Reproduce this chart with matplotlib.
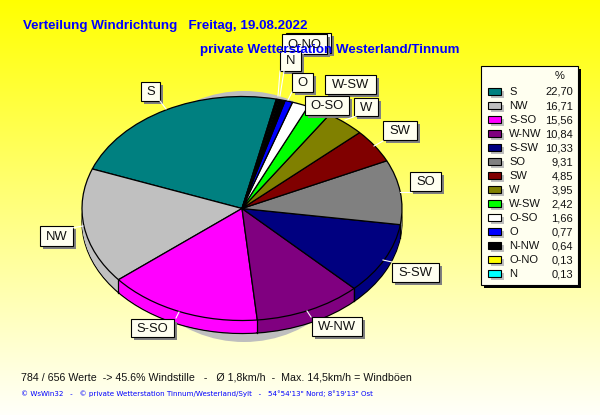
import numpy as np
import matplotlib
matplotlib.use("Agg")
import matplotlib.pyplot as plt
from matplotlib.patches import Rectangle, Ellipse

plt.rcParams['font.family'] = ['Liberation Sans', 'DejaVu Sans']

directions = ["S", "NW", "S-SO", "W-NW", "S-SW", "SO", "SW", "W", "W-SW", "O-SO", "O", "N-NW", "O-NO", "N"]
percent = [22.70, 16.71, 15.56, 10.84, 10.33, 9.31, 4.85, 3.95, 2.42, 1.66, 0.77, 0.64, 0.13, 0.13]
colors = ["#008080", "#C0C0C0", "#FF00FF", "#800080", "#000080", "#808080", "#800000", "#808000",
          "#00FF00", "#FFFFFF", "#0000FF", "#000000", "#FFFF00", "#00FFFF"]

title1 = "Verteilung Windrichtung   Freitag, 19.08.2022"
title2 = "private Wetterstation Westerland/Tinnum"
footer1 = "784 / 656 Werte  -> 45.6% Windstille   -   Ø 1,8km/h  -  Max. 14,5km/h = Windböen"
footer2 = "© WsWin32   -   © private Wetterstation Tinnum/Westerland/Sylt   -   54°54'13\" Nord; 8°19'13\" Ost"

W, H = 600, 415
fig = plt.figure(figsize=(W / 100, H / 100), dpi=100)

bg = fig.add_axes([0, 0, 1, 1], zorder=0)
bg.set_xlim(0, W); bg.set_ylim(H, 0); bg.axis("off")
grad = np.ones((H, 1, 3))
grad[:, 0, 2] = np.linspace(0, 0.98, H)
bg.imshow(grad, extent=(0, W, H, 0), aspect="auto", interpolation="bilinear")

cx, cy, rx, ry, depth = 242, 208.5, 160, 112, 13
bg.add_patch(Ellipse((cx + 2, cy + 8), 250, 2 * ry + 27, color="#BEBEBE", lw=0))

start = 77.6
pie_ax = fig.add_axes([(cx - rx * 1.25) / W, 1 - (cy + ry * 1.25) / H,
                       2.5 * rx / W, 2.5 * ry / H], zorder=1)
for i in range(depth, -1, -1):
    edge = "black" if i in (0, depth) else "none"
    lw = 0.9 if i in (0, depth) else 0
    pie_ax.pie(percent, colors=colors, startangle=start, counterclock=True,
               center=(0, -i / ry), radius=1.0,
               wedgeprops=dict(edgecolor=edge, linewidth=lw))
pie_ax.set_aspect("auto")
pie_ax.set_xlim(-1.25, 1.25); pie_ax.set_ylim(-1.25, 1.25)
pie_ax.patch.set_alpha(0)

# vertical seams on the rim where visible wedge boundaries meet the lower half
for ang in start + np.cumsum(percent) * 3.6:
    s = np.sin(np.radians(ang))
    if s < 0:
        c = np.cos(np.radians(ang))
        pie_ax.plot([c, c], [s, s - depth / ry], color="black", lw=0.9, zorder=20)

ov = fig.add_axes([0, 0, 1, 1], zorder=2)
ov.set_xlim(0, W); ov.set_ylim(H, 0); ov.axis("off"); ov.patch.set_alpha(0)

ov.text(23, 26, title1, color="#0000FF", fontsize=9.6, fontweight="bold", va="center")
ov.text(200, 49.5, title2, color="#0000FF", fontsize=9.6, fontweight="bold", va="center")

IVORY = "#FFFFF0"
def box(x0, y0, x1, y1, text=None, shadow="#808080", off=3):
    ov.add_patch(Rectangle((x0 + off, y0 + off), x1 - x0, y1 - y0, fc=shadow, ec="none"))
    ov.add_patch(Rectangle((x0, y0), x1 - x0, y1 - y0, fc=IVORY, ec="black", lw=0.8))
    if text:
        ov.text((x0 + x1) / 2, (y0 + y1) / 2 + 0.5, text, fontsize=9.4, ha="center", va="center", color="#111111")

leaders = [((160, 101), (166, 109)), ((280, 71), (278, 96)), ((284, 71), (280, 96)),
           ((292, 92), (288, 100)), ((356, 116), (345, 120)), ((383, 141), (374, 146)),
           ((411, 192), (400, 192)), ((392, 262), (383, 260)), ((72, 228), (83, 226)),
           ((311, 317), (307, 311)), ((176, 318), (179, 312))]
for (a, b) in leaders:
    ov.plot([a[0], b[0]], [a[1], b[1]], color="white", lw=0.8)

boxes = [("", 286, 33, 331, 53), ("O-NO", 282, 34, 327, 54), ("N", 280, 51, 301, 71),
         ("O", 292, 73, 313, 92), ("W-SW", 325, 75, 376, 94), ("O-SO", 305, 96, 349, 115),
         ("W", 354, 98, 378, 116), ("SW", 383, 121, 417, 140), ("S", 141, 82, 160, 101),
         ("SO", 410, 172, 441, 191), ("NW", 40, 226, 73, 246), ("S-SW", 392, 263, 439, 282),
         ("W-NW", 312, 317, 362, 336), ("S-SO", 131, 319, 174, 337)]
for t, x0, y0, x1, y1 in boxes:
    box(x0, y0, x1, y1, t)

# legend
ov.add_patch(Rectangle((484, 69), 97, 219, fc="black", ec="none"))
ov.add_patch(Rectangle((481, 66), 97, 219, fc=IVORY, ec="black", lw=0.8))
ov.text(560, 76, "%", fontsize=8, ha="center", va="center", color="#111111")
for i, (d, p, c) in enumerate(zip(directions, percent, colors)):
    y = 92 + i * 14
    ov.add_patch(Rectangle((491, y - 1), 13, 7, fc="#BEBEBE", ec="none"))
    ov.add_patch(Rectangle((488, y - 4), 13, 7, fc=c, ec="black", lw=0.8))
    ov.text(509, y, d, fontsize=8, va="center", color="#111111")
    ov.text(573, y, f"{p:.2f}".replace(".", ","), fontsize=8, va="center", ha="right", color="#111111")

ov.text(21, 377, footer1, fontsize=7.7, va="center", color="#111111")
ov.text(21, 394, footer2, fontsize=5.1, va="center", color="#0000FF", family=["DejaVu Sans"])

fig.savefig("out.png", dpi=100)
